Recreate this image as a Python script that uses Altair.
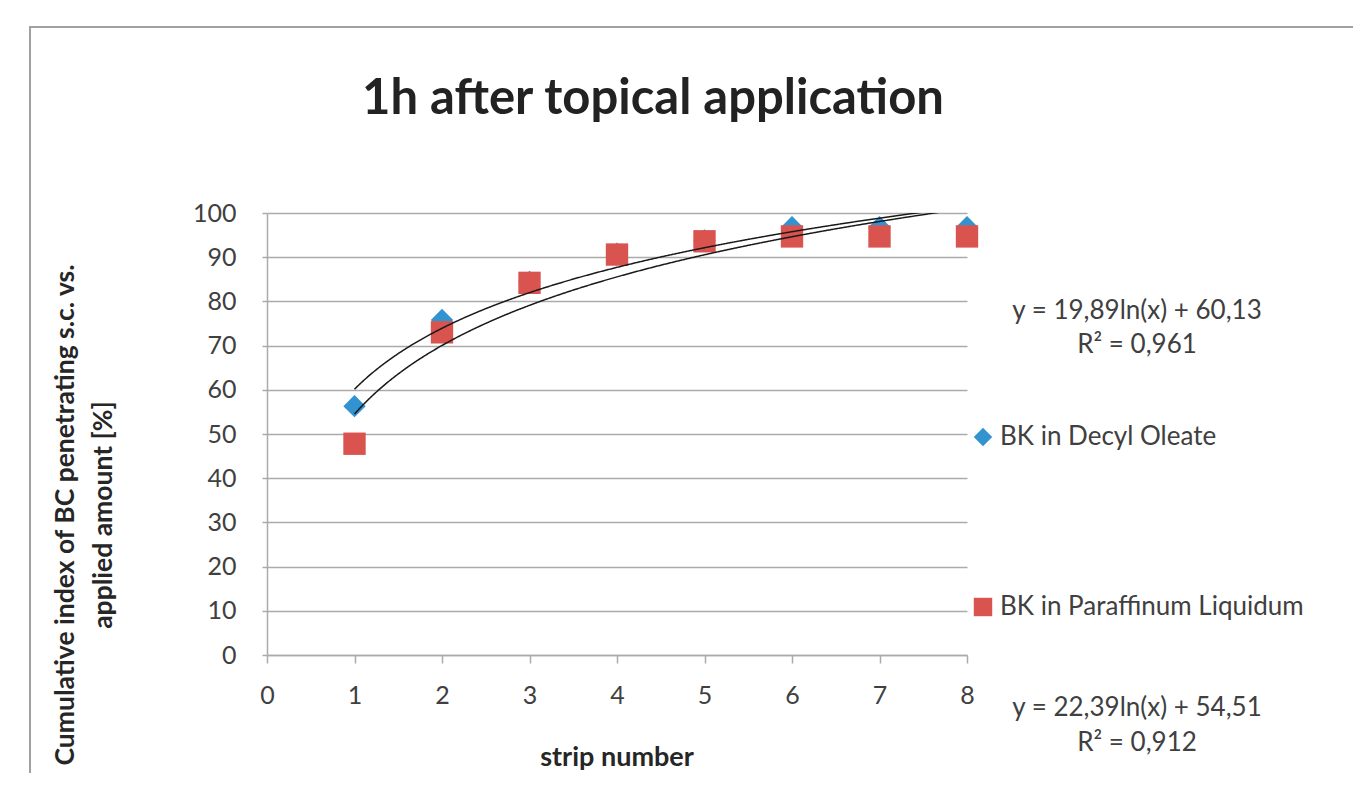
import altair as alt
import pandas as pd

# ---- data ----
strips = [1, 2, 3, 4, 5, 6, 7, 8]
decyl_oleate = [56.3, 75.8, 84.4, 90.8, 93.8, 96.8, 96.8, 96.8]
paraffinum = [47.8, 73.0, 84.2, 90.6, 93.6, 94.7, 94.7, 94.7]
series_names = ["BK in Decyl Oleate", "BK in Paraffinum Liquidum"]
# logarithmic trendline coefficients (y = a*ln(x) + b) as printed on the chart
trend_a = [19.89, 22.39]
trend_b = [60.13, 54.51]
eq_labels = ["y = 19,89ln(x) + 60,13", "y = 22,39ln(x) + 54,51"]
r2_labels = ["R² = 0,961", "R² = 0,912"]
title_text = "1h after topical application"
x_title = "strip number"
y_title = ["Cumulative index of BC penetrating s.c. vs.", "applied amount [%]"]

BLUE = "#3392D0"
RED = "#D9534F"
GRID = "#ABABAB"
TXT = "#404040"
FONT = "Lato"

df_blue = pd.DataFrame({"strip": strips, "value": decyl_oleate})
df_red = pd.DataFrame({"strip": strips, "value": paraffinum})

xs = alt.Scale(domain=[0, 8], nice=False)
ys = alt.Scale(domain=[0, 100], nice=False)

x_axis = alt.Axis(values=list(range(0, 9)), format="d", grid=False, tickSize=8, tickColor=GRID,
                  domainColor=GRID, domainWidth=1.5, tickWidth=1.5, labelFlush=False,
                  labelFontSize=25, labelColor=TXT, labelFont=FONT, labelPadding=20,
                  title=None)
y_axis = alt.Axis(values=list(range(0, 101, 10)), format="d", grid=True, gridColor=GRID, gridWidth=1.5,
                  tickSize=5, tickColor=GRID, tickWidth=1.5, domainColor=GRID, domainWidth=1.5,
                  labelFontSize=25, labelColor=TXT, labelFont=FONT, labelPadding=26,
                  title=None)

blue_pts = alt.Chart(df_blue).mark_point(filled=True, shape="diamond", size=500, opacity=1,
                                         color=BLUE).encode(
    x=alt.X("strip:Q", scale=xs, axis=x_axis),
    y=alt.Y("value:Q", scale=ys, axis=y_axis),
)
red_pts = alt.Chart(df_red).mark_point(filled=True, shape="square", size=500, opacity=1,
                                       color=RED).encode(
    x=alt.X("strip:Q", scale=xs),
    y=alt.Y("value:Q", scale=ys),
)

trend = alt.Chart(alt.sequence(1, 7.701, 0.01, as_="x")).transform_calculate(
    yb=f"{trend_a[0]}*log(datum.x)+{trend_b[0]}",
    yr=f"{trend_a[1]}*log(datum.x)+{trend_b[1]}",
).transform_fold(["yb", "yr"]).mark_line(color="#1a1a1a", strokeWidth=1.5, clip=True).encode(
    x=alt.X("x:Q", scale=xs),
    y=alt.Y("value:Q", scale=ys),
    detail="key:N",
)


def txt(s, x, y, size, bold=False, align="center", angle=0, color=TXT):
    kw = dict(fontSize=size, font=FONT, align=align, baseline="middle", color=color,
              fontWeight="bold" if bold else "normal")
    if angle:
        kw["angle"] = angle
    return alt.Chart(pd.DataFrame({"t": [s]})).mark_text(**kw).encode(
        x=alt.value(x), y=alt.value(y), text="t:N")


def sym(shape, color, x, y):
    return alt.Chart(pd.DataFrame({"t": [shape]})).mark_point(
        filled=True, shape=shape, size=340, opacity=1, color=color).encode(
        x=alt.value(x), y=alt.value(y))


border = alt.Chart(pd.DataFrame({"t": [0]})).mark_rect(
    fill=None, stroke="#A0A0A0", strokeWidth=2).encode(
    x=alt.value(-237), x2=alt.value(1200), y=alt.value(-186), y2=alt.value(800))

layers = [
    border,
    blue_pts, red_pts, trend,
    txt(title_text, 386, -114, 49, bold=True, color="#222222"),
    txt(x_title, 350, 545, 27, bold=True, color="#262626"),
    txt(y_title[0], -201, 302, 26.5, bold=True, angle=270, color="#262626"),
    txt(y_title[1], -163, 302, 26.5, bold=True, angle=270, color="#262626"),
    sym("diamond", BLUE, 716, 224),
    txt(series_names[0], 733, 224, 26, align="left"),
    sym("square", RED, 716, 394),
    txt(series_names[1], 733, 394, 26, align="left"),
    txt(eq_labels[0], 870, 98, 26),
    txt(r2_labels[0], 870, 132, 26),
    txt(eq_labels[1], 870, 495, 26),
    txt(r2_labels[1], 870, 530, 26),
]

chart = alt.layer(*layers).properties(
    width=700, height=442,
    padding={"left": 259, "top": 205, "right": 386, "bottom": 118},
    autosize=alt.AutoSizeParams(type="none"),
).configure_view(stroke=None)

chart.save("out.html", embed_options={"renderer": "svg", "actions": False})
